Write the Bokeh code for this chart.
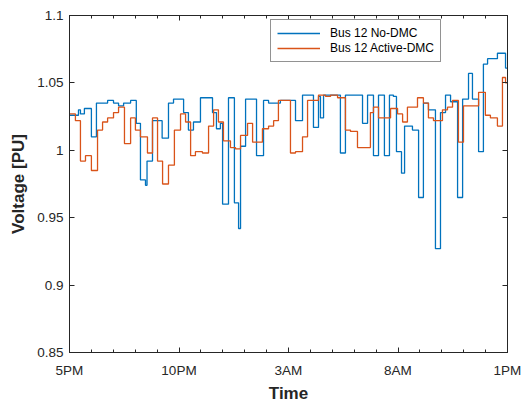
from bokeh.plotting import figure
from bokeh.models import LinearAxis, FixedTicker, Range1d, CustomLabelingPolicy
from bokeh.embed import file_html
from bokeh.resources import INLINE

# ---- data (hours after 5PM, voltage in PU), step series ----
time_nodmc = [0.00, 0.41, 0.50, 0.68, 1.00, 1.23, 1.74, 2.01, 2.24, 2.47, 2.79, 3.05, 3.24, 3.47, 3.54,
              3.79, 4.23, 4.52, 4.75, 5.21, 5.43, 5.66, 5.98, 6.53, 6.71, 6.89, 6.99, 7.26, 7.53, 7.72,
              7.81, 8.04, 8.54, 8.86, 9.09, 9.63, 10.32, 10.64, 11.14, 11.37, 11.46, 11.60, 12.37, 12.60,
              13.38, 13.61, 13.88, 14.11, 14.38, 14.61, 14.79, 14.93, 15.16, 15.30, 15.66, 15.94, 16.16,
              16.39, 16.71, 16.94, 17.17, 17.40, 17.72, 17.95, 18.22, 18.40, 18.68, 18.90, 19.09, 19.54,
              19.91, 20.00]
volt_nodmc = [1.026, 1.030, 1.027, 1.031, 1.010, 1.035, 1.037, 1.035, 1.033, 1.035, 1.037, 1.020, 0.978, 0.974, 0.992,
              1.022, 1.009, 1.035, 1.038, 1.028, 1.015, 1.021, 1.039, 1.028, 1.016, 1.020, 0.960, 1.039, 0.961, 0.942,
              1.003, 1.038, 0.996, 1.037, 1.035, 1.037, 1.022, 1.041, 1.017, 1.040, 1.024, 1.041, 0.998, 1.041,
              1.020, 1.041, 0.996, 1.041, 0.996, 1.041, 1.040, 0.999, 0.983, 1.018, 1.015, 0.965, 1.035,
              1.030, 0.927, 1.028, 1.041, 1.036, 0.965, 1.038, 1.057, 1.038, 0.999, 1.064, 1.068, 1.072,
              1.061, 1.061]

time_dmc = [0.00, 0.27, 0.50, 0.73, 1.00, 1.28, 1.51, 1.74, 2.01, 2.24, 2.51, 2.79, 3.01, 3.24, 3.56, 3.79,
            4.02, 4.25, 4.52, 4.79, 5.07, 5.30, 5.53, 5.75, 6.07, 6.35, 6.58, 6.80, 7.03, 7.35, 7.58, 7.81,
            8.13, 8.36, 8.81, 9.09, 9.32, 9.54, 10.09, 10.32, 10.64, 10.87, 11.37, 11.69, 11.92, 12.24, 12.60,
            12.83, 13.15, 13.74, 13.88, 14.11, 14.66, 14.98, 15.21, 15.43, 15.89, 16.16, 16.39, 16.62, 17.03,
            17.26, 17.49, 17.76, 17.99, 18.68, 18.99, 19.22, 19.54, 19.77, 19.91, 20.00]
volt_dmc = [1.027, 1.022, 0.992, 0.996, 0.985, 1.015, 1.021, 1.024, 1.028, 1.032, 1.005, 1.024, 1.015, 1.010, 0.998, 1.024,
            0.992, 0.975, 0.989, 1.015, 1.027, 1.021, 0.996, 0.999, 0.998, 1.018, 1.030, 1.021, 1.007, 1.002, 1.001, 1.011,
            1.020, 1.006, 1.016, 1.018, 1.022, 1.037, 0.998, 0.999, 1.010, 1.037, 1.041, 1.040, 1.041, 1.039, 1.015,
            1.014, 1.002, 1.028, 1.032, 1.024, 1.031, 1.027, 1.021, 1.032, 1.039, 1.035, 1.024, 1.022, 1.030,
            1.032, 1.037, 1.006, 1.033, 1.043, 1.026, 1.024, 1.018, 1.054, 1.050, 1.050]

x_ticks = [0, 5, 10, 15, 20]
x_tick_labels = ["5PM", "10PM", "3AM", "8AM", "1PM"]
x_minor = list(range(0, 21))
y_ticks = [0.85, 0.9, 0.95, 1.0, 1.05, 1.1]
y_tick_labels = ["0.85", "0.9", "0.95", "1", "1.05", "1.1"]

AX = "#262626"
FONT = "Liberation Sans"

p = figure(frame_width=438, frame_height=337, output_backend="svg", toolbar_location=None,
           x_range=Range1d(0, 20), y_range=Range1d(0.85, 1.1),
           min_border_left=69, min_border_right=23, min_border_top=15, min_border_bottom=51)
p.xgrid.visible = False
p.ygrid.visible = False
p.outline_line_color = AX
p.outline_line_width = 1
p.background_fill_color = "white"
p.border_fill_color = "white"

p.step(time_nodmc, volt_nodmc, mode="after", line_color="#0072BD", line_width=1.3,
       legend_label="Bus 12 No-DMC")
p.step(time_dmc, volt_dmc, mode="after", line_color="#D95319", line_width=1.3,
       legend_label="Bus 12 Active-DMC")

def style_x(ax, labels=True):
    ax.ticker = FixedTicker(ticks=x_ticks, minor_ticks=x_minor)
    ax.major_tick_in = 5
    ax.major_tick_out = 0
    ax.minor_tick_in = 3
    ax.minor_tick_out = 0
    ax.axis_line_color = AX
    ax.major_tick_line_color = AX
    ax.minor_tick_line_color = AX
    if labels:
        ax.major_label_overrides = {t: l for t, l in zip(x_ticks, x_tick_labels)}
        ax.major_label_text_font = FONT
        ax.major_label_text_font_size = "13.5px"
        ax.major_label_text_color = AX
        ax.major_label_standoff = 10
    else:
        ax.major_label_policy = CustomLabelingPolicy(code="return []")
        ax.major_label_standoff = 0

def style_y(ax, labels=True):
    ax.ticker = FixedTicker(ticks=y_ticks)
    ax.major_tick_in = 5
    ax.major_tick_out = 0
    ax.minor_tick_line_color = None
    ax.axis_line_color = AX
    ax.major_tick_line_color = AX
    if labels:
        ax.major_label_overrides = {t: l for t, l in zip(y_ticks, y_tick_labels)}
        ax.major_label_text_font = FONT
        ax.major_label_text_font_size = "13.5px"
        ax.major_label_text_color = AX
        ax.major_label_standoff = 6
    else:
        ax.major_label_policy = CustomLabelingPolicy(code="return []")
        ax.major_label_standoff = 0

style_x(p.xaxis[0])
style_y(p.yaxis[0])
p.xaxis[0].axis_label = "Time"
p.yaxis[0].axis_label = "Voltage [PU]"
for ax in (p.xaxis[0], p.yaxis[0]):
    ax.axis_label_text_font = FONT
    ax.axis_label_text_font_size = "17px"
    ax.axis_label_text_font_style = "bold"
    ax.axis_label_text_color = AX
p.xaxis[0].axis_label_standoff = 3
p.yaxis[0].axis_label_standoff = 6

top = LinearAxis()
style_x(top, labels=False)
p.add_layout(top, "above")
right = LinearAxis()
style_y(right, labels=False)
p.add_layout(right, "right")

lg = p.legend[0]
lg.location = (201, 290)
lg.margin = 0
lg.padding = 6
lg.spacing = 1
lg.glyph_width = 43
lg.glyph_height = 14
lg.label_height = 14
lg.label_standoff = 10
lg.label_text_font = FONT
lg.label_text_font_size = "12px"
lg.label_text_color = "#000000"
lg.border_line_color = AX
lg.border_line_width = 1
lg.background_fill_color = "white"
lg.background_fill_alpha = 1

open("out.html", "w").write(file_html(p, INLINE))
